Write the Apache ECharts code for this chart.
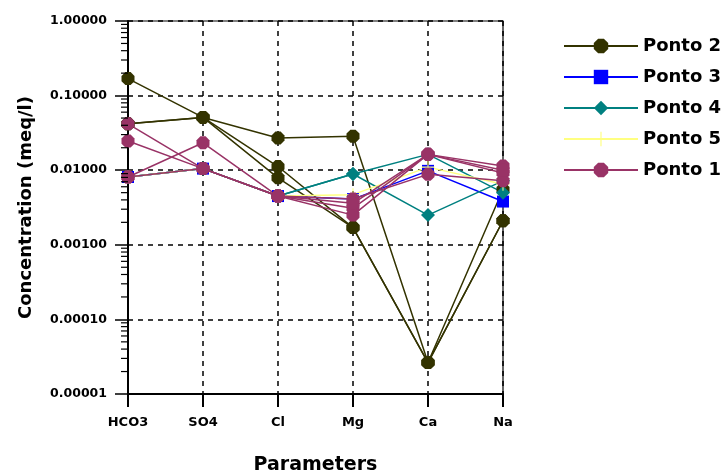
<!DOCTYPE html>
<html>
<head>
<meta charset="utf-8">
<script src="https://cdn.jsdelivr.net/npm/echarts@6/dist/echarts.min.js"></script>
<style>
html,body{margin:0;padding:0;background:#fff;}
#chart{width:724px;height:470px;}
</style>
</head>
<body>
<div id="chart"></div>
<script>
// Categories (x axis)
const categories = ['HCO3', 'SO4', 'Cl', 'Mg', 'Ca', 'Na'];

// Ponto 2 samples
const ponto2a = [0.169, 0.051, 0.027, 0.0286, 0.0000264, 0.0021];
const ponto2b = [0.0418, 0.051, 0.0079, 0.0017, 0.0000264, 0.0055];
const ponto2c = [0.0418, 0.051, 0.0112, 0.0017, 0.0000264, 0.0021];
// Ponto 3
const ponto3 = [0.0081, 0.0105, 0.0045, 0.0041, 0.0098, 0.0038];
// Ponto 4
const ponto4a = [0.0081, 0.0105, 0.0045, 0.0089, 0.0163, 0.0050];
const ponto4b = [0.0081, 0.0105, 0.0045, 0.0089, 0.0025, 0.0072];
// Ponto 5
const ponto5 = [0.0081, 0.0105, 0.0045, 0.0047, 0.011, 0.0065];
// Ponto 1
const ponto1a = [0.0418, 0.0105, 0.0045, 0.0031, 0.0163, 0.0114];
const ponto1b = [0.0246, 0.0105, 0.0045, 0.0025, 0.0163, 0.0092];
const ponto1c = [0.0081, 0.0233, 0.0045, 0.0041, 0.0088, 0.0072];
const ponto1d = [0.0081, 0.0105, 0.0045, 0.0036, 0.0163, 0.0100];

// Y tick labels (decades)
const yTickLabels = ['0.00001', '0.00010', '0.00100', '0.01000', '0.10000', '1.00000'];

const legendNames = ['Ponto 2', 'Ponto 3', 'Ponto 4', 'Ponto 5', 'Ponto 1'];

const octagon = 'path://M3,0H7L10,3V7L7,10H3L0,7V3Z';
const plus = 'path://M4.6,0H5.4V4.6H10V5.4H5.4V10H4.6V5.4H0V4.6H4.6Z';

const styles = {
  'Ponto 2': {color: '#333300', symbol: octagon, size: 13},
  'Ponto 3': {color: '#0000ff', symbol: 'rect', size: 12},
  'Ponto 4': {color: '#008080', symbol: 'diamond', size: 14},
  'Ponto 5': {color: '#ffff80', symbol: plus, size: 13},
  'Ponto 1': {color: '#993366', symbol: octagon, size: 13}
};

function mk(name, data) {
  const s = styles[name];
  return {
    name: name,
    type: 'line',
    data: data,
    symbol: s.symbol,
    symbolSize: s.size,
    showAllSymbol: true,
    color: s.color,
    lineStyle: {color: s.color, width: 1.5},
    itemStyle: {color: s.color},
    z: 3
  };
}

// minor ticks (log positions 2..9 in each decade)
const minorTicks = [];
for (let e = -5; e < 0; e++) {
  for (let m = 2; m <= 9; m++) minorTicks.push([0, m * Math.pow(10, e)]);
}

const font = 'DejaVu Sans, Verdana, sans-serif';

const chart = echarts.init(document.getElementById('chart'));
chart.setOption({
  animation: false,
  backgroundColor: '#fff',
  grid: {
    left: 128, right: 221, top: 21, bottom: 76,
    containLabel: false, outerBoundsMode: 'none',
    show: true, borderColor: '#000', borderWidth: 1.2
  },
  legend: {
    data: legendNames,
    orient: 'vertical',
    left: 563,
    top: 37,
    padding: 0,
    itemWidth: 74,
    itemHeight: 18,
    itemGap: 13,
    textStyle: {fontFamily: font, fontWeight: 'bold', fontSize: 18, color: '#000'}
  },
  xAxis: {
    type: 'category',
    data: categories,
    boundaryGap: false,
    name: 'Parameters',
    nameLocation: 'middle',
    nameGap: 62,
    nameTextStyle: {fontFamily: font, fontWeight: 'bold', fontSize: 19, color: '#000'},
    axisLine: {lineStyle: {color: '#000', width: 2}},
    axisTick: {show: true, length: 13, lineStyle: {color: '#000', width: 2}},
    axisLabel: {fontFamily: font, fontWeight: 'bold', fontSize: 13, color: '#000', margin: 22},
    splitLine: {show: true, lineStyle: {color: '#000', type: [5, 5], width: 1.5}}
  },
  yAxis: {
    type: 'log',
    logBase: 10,
    min: 0.00001,
    max: 1,
    splitNumber: 5,
    name: 'Concentration (meq/l)',
    nameLocation: 'middle',
    nameGap: 93,
    nameTextStyle: {fontFamily: font, fontWeight: 'bold', fontSize: 18, color: '#000'},
    axisLine: {show: true, lineStyle: {color: '#000', width: 2}},
    axisTick: {show: true, length: 13, lineStyle: {color: '#000', width: 1.5}},
    axisLabel: {
      fontFamily: font, fontWeight: 'bold', fontSize: 12.5, color: '#000', margin: 21,
      formatter: function (v) {
        const idx = Math.round(Math.log10(v)) + 5;
        return yTickLabels[idx] !== undefined ? yTickLabels[idx] : '';
      }
    },
    splitLine: {show: true, lineStyle: {color: '#000', type: [5, 5], width: 1.5}}
  },
  series: [
    mk('Ponto 2', ponto2a),
    mk('Ponto 2', ponto2b),
    mk('Ponto 2', ponto2c),
    mk('Ponto 3', ponto3),
    mk('Ponto 4', ponto4a),
    mk('Ponto 4', ponto4b),
    mk('Ponto 5', ponto5),
    mk('Ponto 1', ponto1a),
    mk('Ponto 1', ponto1b),
    mk('Ponto 1', ponto1c),
    mk('Ponto 1', ponto1d),
    {
      type: 'custom',
      name: 'minorTicks',
      data: minorTicks,
      silent: true,
      clip: false,
      z: 5,
      renderItem: function (params, api) {
        const p = api.coord([api.value(0), api.value(1)]);
        return {
          type: 'line',
          shape: {x1: p[0] - 7, y1: p[1], x2: p[0], y2: p[1]},
          style: {stroke: '#000', lineWidth: 1.2}
        };
      }
    }
  ]
});
</script>
</body>
</html>
